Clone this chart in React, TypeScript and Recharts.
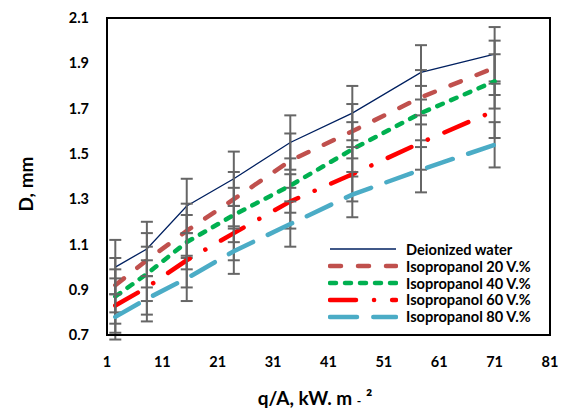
import { LineChart, Line, XAxis, YAxis, ErrorBar, ReferenceArea, Label } from 'recharts';

// heat flux q/A (kW/m2) and bubble diameter D (mm)
const heatFlux = [2.5, 8.2, 15.4, 23.9, 34.1, 45.3, 57.7, 71];
const water = [1.0, 1.08, 1.27, 1.39, 1.55, 1.68, 1.86, 1.94];
const iso20 = [0.92, 1.03, 1.16, 1.3, 1.47, 1.6, 1.75, 1.88];
const iso40 = [0.87, 0.97, 1.11, 1.23, 1.36, 1.52, 1.68, 1.82];
const iso60 = [0.83, 0.91, 1.03, 1.15, 1.29, 1.41, 1.55, 1.69];
const iso80 = [0.78, 0.86, 0.95, 1.07, 1.19, 1.32, 1.43, 1.54];

const seriesNames = ['Deionized water', 'Isopropanol 20 V.%', 'Isopropanol 40 V.%', 'Isopropanol 60 V.%', 'Isopropanol 80 V.%'];
const seriesErrors = [0.12, 0.12, 0.12, 0.12, 0.1];

const xTicks = [1, 11, 21, 31, 41, 51, 61, 71, 81];
const yTicks = [0.7, 0.9, 1.1, 1.3, 1.5, 1.7, 1.9, 2.1];

const seriesValues = [water, iso20, iso40, iso60, iso80];
const keys = ['water', 'iso20', 'iso40', 'iso60', 'iso80'];

const styles = [
  { color: '#002060', width: 1.3, dash: undefined, cap: 'butt' },
  { color: '#C0504D', width: 4.5, dash: '11 17', cap: 'round' },
  { color: '#00B050', width: 4.5, dash: '6 9', cap: 'round' },
  { color: '#FF0000', width: 4.5, dash: '26 18 0.1 18', cap: 'round' },
  { color: '#4BACC6', width: 4.5, dash: '27 16.3', cap: 'round' },
];

const data = heatFlux.map((x, i) => {
  const row: Record<string, number> = { x };
  keys.forEach((k, s) => {
    row[k] = seriesValues[s][i];
    row[k + 'Err'] = seriesErrors[s];
  });
  return row;
});

const tickStyle = { fontSize: 14.5, fontWeight: 700, fill: '#000' };

const LegendBox = () => (
  <div
    style={{
      position: 'absolute',
      left: 328,
      top: 241,
      fontFamily: 'Lato',
      fontWeight: 700,
      fontSize: 14.6,
      color: '#000',
      lineHeight: '17px',
    }}
  >
    {seriesNames.map((name, i) => (
      <div key={name} style={{ display: 'flex', alignItems: 'center', height: 16.8 }}>
        <svg width={70} height={8} style={{ marginRight: 8 }}>
          <line
            x1={2}
            x2={68}
            y1={4}
            y2={4}
            stroke={styles[i].color}
            strokeWidth={styles[i].width}
            strokeDasharray={styles[i].dash}
            strokeLinecap={styles[i].cap as any}
          />
        </svg>
        <span style={{ whiteSpace: 'nowrap' }}>{name}</span>
      </div>
    ))}
  </div>
);

export default function App() {
  return (
    <div style={{ position: 'absolute', left: 0, top: 0, width: 565, height: 413, fontFamily: 'Lato' }}>
      <LineChart width={565} height={413} data={data} margin={{ top: 18, right: 15, bottom: 38, left: 47 }}>
        <XAxis
          dataKey="x"
          type="number"
          domain={[1, 81]}
          ticks={xTicks}
          tickLine={false}
          tickSize={0}
          tickMargin={22}
          axisLine={{ stroke: '#000', strokeWidth: 2 }}
          tick={tickStyle}
          height={40}
        >
          <Label
            content={() => (
              <text x={315} y={405} textAnchor="middle" fontSize={19} fontWeight={700} fill="#000">
                <tspan>q/A, kW. m </tspan>
                <tspan fontSize={12}>-</tspan>
                <tspan> ²</tspan>
              </text>
            )}
          />
        </XAxis>
        <YAxis
          type="number"
          domain={[0.7, 2.1]}
          ticks={yTicks}
          allowDataOverflow
          tickFormatter={(v: number) => v.toFixed(1)}
          tickLine={false}
          tickSize={0}
          tickMargin={18}
          axisLine={{ stroke: '#000', strokeWidth: 2 }}
          tick={tickStyle}
          width={60}
        >
          <Label
            content={() => (
              <text
                x={25}
                y={184}
                transform="rotate(-90 25 184)"
                textAnchor="middle"
                dominantBaseline="central"
                fontSize={19}
                fontWeight={700}
                fill="#000"
              >
                D, mm
              </text>
            )}
          />
        </YAxis>
        <ReferenceArea x1={1} x2={81} y1={0.7} y2={2.1} fill="none" stroke="#000" strokeWidth={2} />
        {keys.map((k, i) => (
          <Line
            key={k}
            dataKey={k}
            name={seriesNames[i]}
            type="linear"
            stroke={styles[i].color}
            strokeWidth={styles[i].width}
            strokeDasharray={styles[i].dash}
            strokeLinecap={styles[i].cap as any}
            dot={false}
            activeDot={false}
            isAnimationActive={false}
          >
            <ErrorBar dataKey={k + 'Err'} direction="y" width={6} stroke="#666" strokeWidth={2} />
          </Line>
        ))}
      </LineChart>
      <LegendBox />
    </div>
  );
}
